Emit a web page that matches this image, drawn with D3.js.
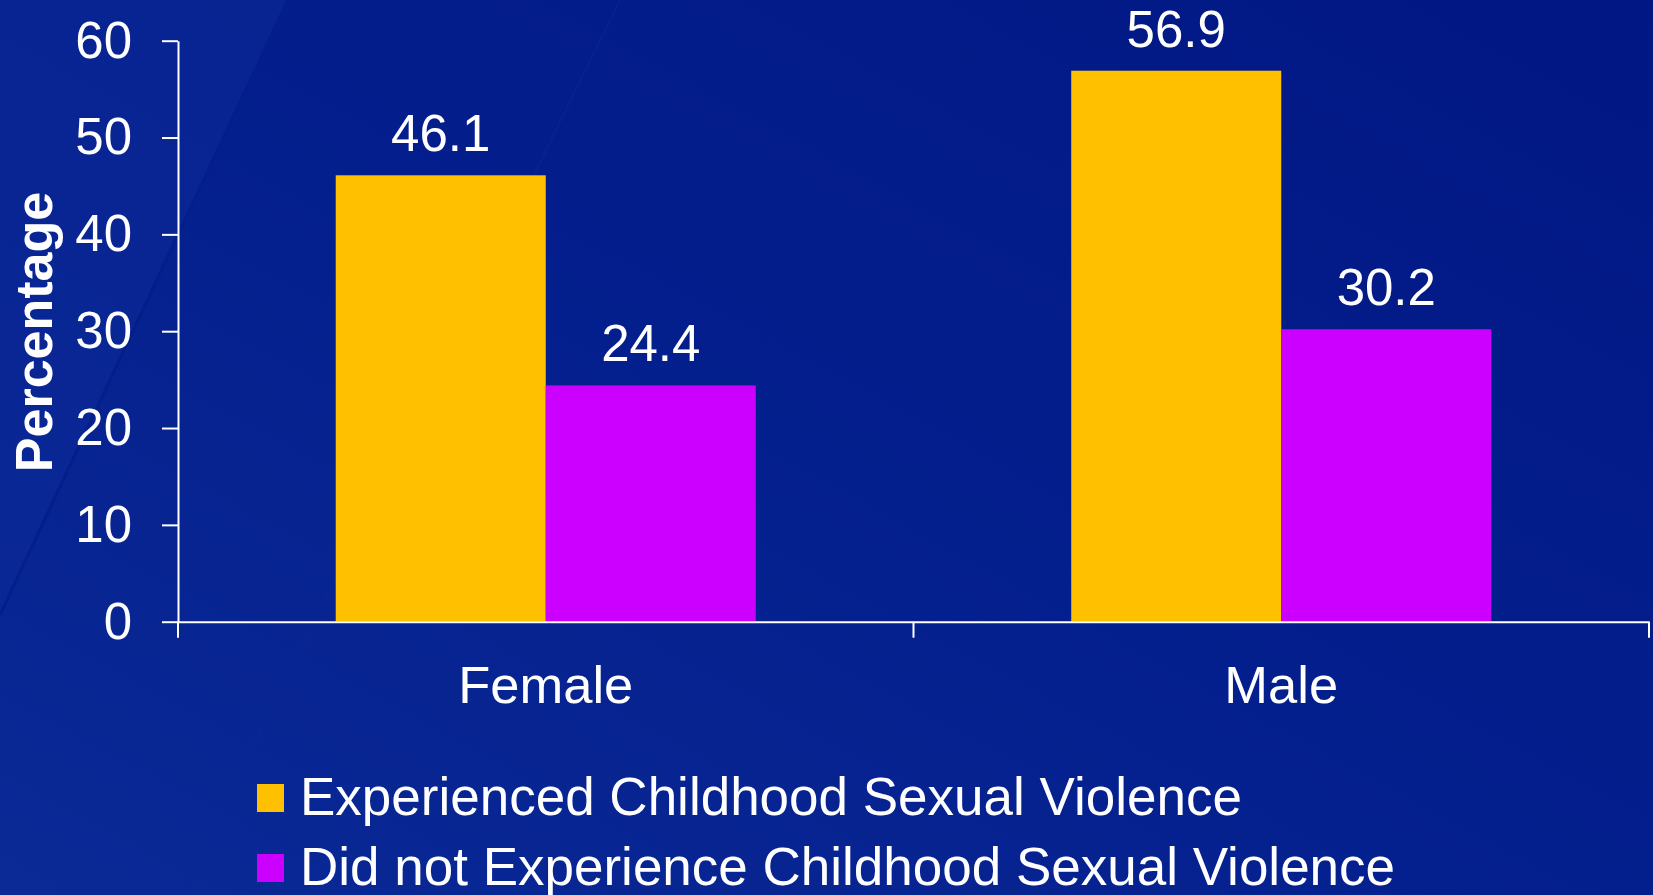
<!DOCTYPE html>
<html>
<head>
<meta charset="utf-8">
<script src="https://cdn.jsdelivr.net/npm/d3@7"></script>
<style>
  html, body { margin: 0; padding: 0; background: #021a88; }
  svg { display: block; }
  text { font-family: "Liberation Sans", Arial, sans-serif; fill: #ffffff; }
</style>
</head>
<body>
<svg id="chart" width="1653" height="895"></svg>
<script>
const categories = ["Female", "Male"];
const seriesNames = ["Experienced Childhood Sexual Violence", "Did not Experience Childhood Sexual Violence"];
const experienced = [46.1, 56.9];
const notExperienced = [24.4, 30.2];
const yTicks = [0, 10, 20, 30, 40, 50, 60];
const colors = ["#FFC000", "#CC00FF"];

const svg = d3.select("#chart");
const W = 1653, H = 895;

// background
const defs = svg.append("defs");
const grad = defs.append("linearGradient").attr("id", "bg")
  .attr("x1", "0%").attr("y1", "100%").attr("x2", "100%").attr("y2", "0%");
grad.append("stop").attr("offset", "0%").attr("stop-color", "#0b2a96");
grad.append("stop").attr("offset", "45%").attr("stop-color", "#04208e");
grad.append("stop").attr("offset", "100%").attr("stop-color", "#011783");
svg.append("rect").attr("width", W).attr("height", H).attr("fill", "url(#bg)");
// faint diagonal sheen
svg.append("path").attr("d", "M0,0 L290,0 L0,620 Z").attr("fill", "#0c2a98").attr("opacity", 0.5);
svg.append("line").attr("x1", 288).attr("y1", 0).attr("x2", 0).attr("y2", 615)
  .attr("stroke", "#021b86").attr("stroke-width", 3).attr("opacity", 0.7);
svg.append("line").attr("x1", 620).attr("y1", 0).attr("x2", 180).attr("y2", 895)
  .attr("stroke", "#0a2898").attr("stroke-width", 2).attr("opacity", 0.5);

const data = categories.map((c, i) => ({ category: c, values: [experienced[i], notExperienced[i]] }));

const x0 = d3.scaleBand().domain(categories).range([178, 1649]).paddingInner(0).paddingOuter(0);
const x1 = d3.scaleBand().domain([0, 1]).range([0, x0.bandwidth()]).paddingInner(0).paddingOuter(0.751);
const y = d3.scaleLinear().domain([0, 60]).range([621.7, 40.7]);

// bars
const groups = svg.append("g").selectAll("g").data(data).join("g")
  .attr("transform", d => `translate(${x0(d.category)},0)`);
groups.selectAll("rect").data(d => d.values.map((v, i) => ({ v, i }))).join("rect")
  .attr("x", d => x1(d.i))
  .attr("width", x1.bandwidth())
  .attr("y", d => y(d.v))
  .attr("height", d => y(0) - y(d.v))
  .attr("fill", d => colors[d.i]);
groups.selectAll("text.val").data(d => d.values.map((v, i) => ({ v, i }))).join("text")
  .attr("class", "val")
  .attr("x", d => x1(d.i) + x1.bandwidth() / 2)
  .attr("y", d => y(d.v) - 24)
  .attr("text-anchor", "middle")
  .attr("font-size", 51)
  .text(d => d.v.toFixed(1));

// y axis
const yAxis = svg.append("g").attr("transform", "translate(178,0)")
  .call(d3.axisLeft(y).tickValues(yTicks).tickSize(16).tickSizeOuter(0).tickPadding(30).tickFormat(d3.format("d")));
yAxis.select(".domain").attr("stroke", "#ffffff").attr("stroke-width", 2);
yAxis.selectAll(".tick line").attr("stroke", "#ffffff").attr("stroke-width", 2);
yAxis.selectAll(".tick text").attr("font-size", 51).attr("fill", "#ffffff")
  .style("font-family", "Liberation Sans, Arial, sans-serif");

// x axis (line + boundary ticks)
const xAxis = svg.append("g").attr("transform", `translate(0,${y(0)})`)
  .call(d3.axisBottom(x0).tickSize(0).tickSizeOuter(0).tickPadding(44));
xAxis.select(".domain").attr("stroke", "#ffffff").attr("stroke-width", 2);
xAxis.selectAll(".tick text").attr("font-size", 52.5).attr("fill", "#ffffff")
  .attr("dy", "0.71em")
  .style("font-family", "Liberation Sans, Arial, sans-serif");
const boundaries = categories.map(c => x0(c)).concat([x0(categories[categories.length - 1]) + x0.bandwidth()]);
xAxis.selectAll("line.bound").data(boundaries).join("line")
  .attr("class", "bound")
  .attr("x1", d => d).attr("x2", d => d)
  .attr("y1", 0).attr("y2", 16)
  .attr("stroke", "#ffffff").attr("stroke-width", 2);

// y title
svg.append("text")
  .attr("transform", "translate(52,332) rotate(-90)")
  .attr("text-anchor", "middle")
  .attr("font-size", 52)
  .attr("font-weight", "bold")
  .text("Percentage");

// legend
const legend = svg.append("g").selectAll("g").data(seriesNames).join("g")
  .attr("transform", (d, i) => `translate(257,${784 + i * 70})`);
legend.append("rect").attr("width", 27).attr("height", 28).attr("fill", (d, i) => colors[i]);
legend.append("text").attr("x", 43).attr("y", 31).attr("font-size", 53).text(d => d);
</script>
</body>
</html>
